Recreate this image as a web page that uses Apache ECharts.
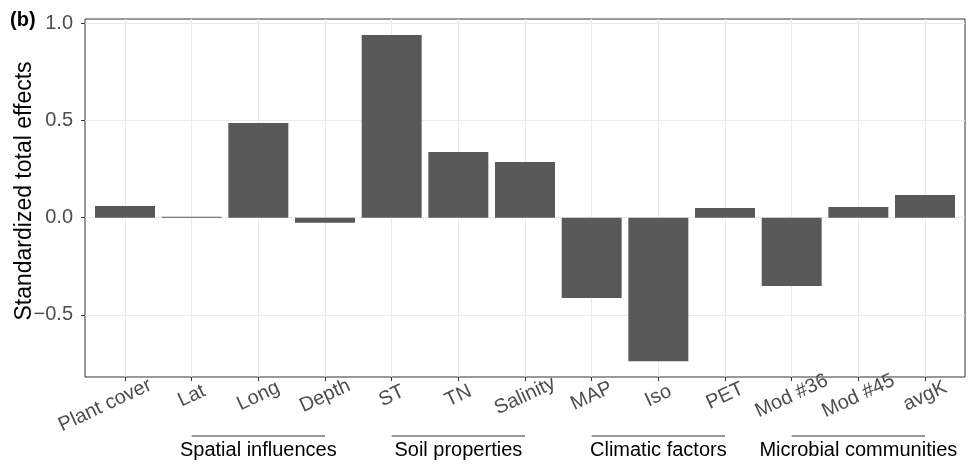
<!DOCTYPE html>
<html><head><meta charset="utf-8">
<script src="https://cdn.jsdelivr.net/npm/echarts@6/dist/echarts.min.js"></script>
<style>html,body{margin:0;padding:0;background:#fff}#c{width:971px;height:466px}</style>
</head><body><div id="c"></div>
<script>
const categories = ['Plant cover','Lat','Long','Depth','ST','TN','Salinity','MAP','Iso','PET','Mod #36','Mod #45','avgK'];
const effects = [0.060, 0.005, 0.487, -0.026, 0.940, 0.338, 0.287, -0.413, -0.739, 0.050, -0.351, 0.055, 0.117];
const yTickValues = [-0.5, 0, 0.5, 1.0];
const groupNames = ['Spatial influences','Soil properties','Climatic factors','Microbial communities'];
const groupFrom = ['Lat','ST','MAP','Mod #36'];
const groupTo = ['Depth','Salinity','PET','avgK'];
const panelLabel = '(b)';
const yTitle = 'Standardized total effects';

const FF = "'Liberation Sans', Arial, Helvetica, sans-serif";
const chart = echarts.init(document.getElementById('c'), null, {renderer:'canvas'});
chart.setOption({
  animation: false,
  backgroundColor: '#fff',
  textStyle: {fontFamily: FF},
  grid: [
    {left:85, top:19, width:880, height:358, show:true, borderColor:'#333333', borderWidth:1, backgroundColor:'transparent'},
    {left:85, top:23.3, width:880, height:340.2},
    {left:125, top:19, width:800, height:358}
  ],
  xAxis: [
    {gridIndex:0, type:'value', show:false, min:0, max:1},
    {gridIndex:1, type:'value', show:false, min:-0.6, max:12.6},
    {gridIndex:2, type:'value', min:0, max:12, interval:1, position:'bottom',
     axisLine:{show:false, onZero:false},
     axisTick:{show:true, length:4, lineStyle:{color:'#333333'}},
     splitLine:{show:true, lineStyle:{color:'#EBEBEB', width:1}},
     axisLabel:{
       formatter: v => {
         const c = categories[v];
         if (c === undefined) return '';
         return v === 0 ? '{first|' + c + '}' : c;
       },
       rich:{first:{padding:[0,44,0,0], fontSize:20, color:'#4D4D4D', fontFamily:FF}},
       rotate:25, align:'center', verticalAlign:'middle', margin:19, fontSize:20, color:'#4D4D4D', fontFamily:FF}}
  ],
  yAxis: [
    {gridIndex:0, type:'value', show:false, min:0, max:1},
    {gridIndex:1, type:'value', min:-0.75, max:1.0, interval:0.25, position:'left',
     axisLine:{show:false, onZero:false},
     axisTick:{show:true, length:4, customValues:yTickValues, lineStyle:{color:'#333333'}},
     axisLabel:{customValues:yTickValues, formatter: v => (v < 0 ? '\u2212' : '') + Math.abs(v).toFixed(1), fontSize:20, color:'#4D4D4D', margin:12, fontFamily:FF},
     splitLine:{show:true, lineStyle:{color:'#EBEBEB', width:1}}},
    {gridIndex:2, type:'value', show:false, min:0, max:1}
  ],
  series: [{
    type:'bar', xAxisIndex:1, yAxisIndex:1,
    data: effects.map((v,i) => [i, v]),
    barWidth: 60, clip:false,
    itemStyle:{color:'#595959'}
  }]
});

const g = [];
g.push({type:'text', left:10, top:10, style:{text:panelLabel, fontSize:20, fontWeight:'bold', fill:'#000', fontFamily:FF}});
g.push({type:'text', x:24.5, y:191, rotation:Math.PI/2, style:{text:yTitle, align:'center', verticalAlign:'middle', fontSize:23, fill:'#000', fontFamily:FF}});
for (let k = 0; k < groupNames.length; k++) {
  const x1 = chart.convertToPixel({xAxisIndex:2}, categories.indexOf(groupFrom[k]));
  const x2 = chart.convertToPixel({xAxisIndex:2}, categories.indexOf(groupTo[k]));
  g.push({type:'line', shape:{x1:x1, y1:436, x2:x2, y2:436}, style:{stroke:'#333333', lineWidth:1}});
  g.push({type:'text', x:(x1+x2)/2, y:450, style:{text:groupNames[k], align:'center', verticalAlign:'middle', fontSize:20, fill:'#000', fontFamily:FF}});
}
chart.setOption({graphic: g});
</script>
</body></html>
